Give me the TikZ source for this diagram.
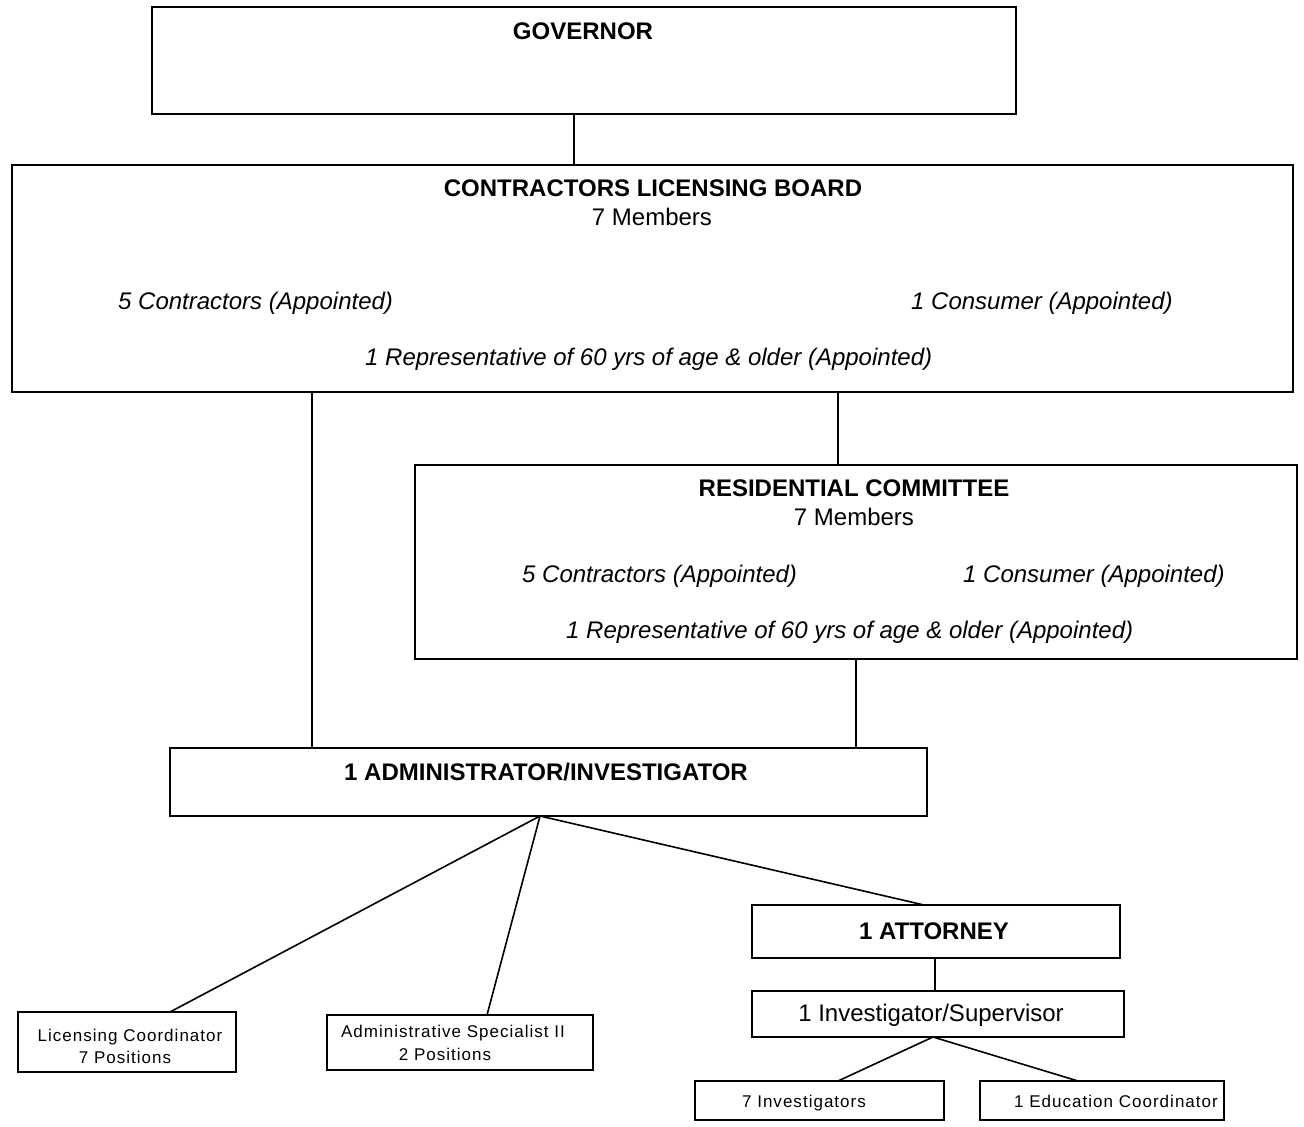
\documentclass[tikz,border=0pt]{standalone}
\usepackage{fontspec}
\setmainfont{Liberation Sans}
\newfontfamily\spacedfont[LetterSpace=6]{Liberation Sans}
\begin{document}
\begin{tikzpicture}[x=1pt,y=-1pt,
  box/.style={draw=black, line width=1.6pt, inner sep=0pt, outer sep=0pt, fill=white},
  conn/.style={draw=black, line width=1.6pt},
  title/.style={font=\fontsize{24}{28}\selectfont\bfseries, inner sep=0pt, anchor=base},
  txt/.style={font=\fontsize{24}{28}\selectfont, inner sep=0pt, anchor=base},
  itx/.style={font=\fontsize{24}{28}\selectfont\itshape, inner sep=0pt, anchor=base west},
  small/.style={font=\fontsize{17}{20}\selectfont\spacedfont, inner sep=0pt, anchor=base}]
\useasboundingbox[fill=white] (0,0) rectangle (1304,1127);

% boxes
\node[box, minimum width=864pt, minimum height=107pt] (gov) at (584,60.5) {};
\node[box, minimum width=1281pt, minimum height=227pt] (board) at (652.5,278.5) {};
\node[box, minimum width=882pt, minimum height=194pt] (res) at (856,562) {};
\node[box, minimum width=757pt, minimum height=68pt] (admin) at (548.5,782) {};
\node[box, minimum width=368pt, minimum height=53pt] (att) at (936,931.5) {};
\node[box, minimum width=372pt, minimum height=46pt] (invsup) at (938,1014) {};
\node[box, minimum width=249pt, minimum height=39pt] (inv) at (819.5,1100.5) {};
\node[box, minimum width=244pt, minimum height=39pt] (edu) at (1102,1100.5) {};
\node[box, minimum width=218pt, minimum height=60pt] (lic) at (127,1042) {};
\node[box, minimum width=266pt, minimum height=55pt] (spec) at (460,1042.5) {};

% texts
\node[title] (govT) at (583,39) {GOVERNOR};
\node[title] (boardT) at (653,196) {CONTRACTORS LICENSING BOARD};
\node[txt] (boardM) at (652,225) {7 Members};
\node[itx] (boardC) at (118,309) {5 Contractors (Appointed)};
\node[itx] (boardK) at (911,309) {1 Consumer (Appointed)};
\node[itx] (boardR) at (365,365) {1 Representative of 60 yrs of age \& older (Appointed)};
\node[title] (resT) at (854,496) {RESIDENTIAL COMMITTEE};
\node[txt] (resM) at (854,525) {7 Members};
\node[itx] (resC) at (522,582) {5 Contractors (Appointed)};
\node[itx] (resK) at (963,582) {1 Consumer (Appointed)};
\node[itx] (resR) at (566,638) {1 Representative of 60 yrs of age \& older (Appointed)};
\node[title] (adminT) at (546,780) {1 ADMINISTRATOR/INVESTIGATOR};
\node[title] (attT) at (934,939) {1 ATTORNEY};
\node[txt] (invsupT) at (931,1021) {1 Investigator/Supervisor};
\node[small] (invT) at (804,1107) {7 Investigators};
\node[small] (eduT) at (1116,1107) {1 Education Coordinator};
\node[small] (licT1) at (130,1041) {Licensing Coordinator};
\node[small] (licT2) at (125,1063) {7 Positions};
\node[small] (specT1) at (453,1037) {Administrative Specialist II};
\node[small] (specT2) at (445,1060) {2 Positions};

% connectors
\draw[conn] ([xshift=-10pt]gov.south) -- ([xshift=-10pt]gov.south |- board.north);
\draw[conn] ([xshift=-340.5pt]board.south) -- ([xshift=-340.5pt]board.south |- admin.north);
\draw[conn] ([xshift=185.5pt]board.south) -- ([xshift=185.5pt]board.south |- res.north);
\draw[conn] (res.south) -- (res.south |- admin.north);
\draw[conn] ([xshift=-8.5pt]admin.south) -- ([xshift=43pt]lic.north);
\draw[conn] ([xshift=-8.5pt]admin.south) -- ([xshift=27pt]spec.north);
\draw[conn] ([xshift=-8.5pt]admin.south) -- ([xshift=-12pt]att.north);
\draw[conn] ([xshift=-1pt]att.south) -- ([xshift=-1pt]att.south |- invsup.north);
\draw[conn] ([xshift=-5pt]invsup.south) -- ([xshift=18.5pt]inv.north);
\draw[conn] ([xshift=-5pt]invsup.south) -- ([xshift=-24pt]edu.north);
\end{tikzpicture}
\end{document}
